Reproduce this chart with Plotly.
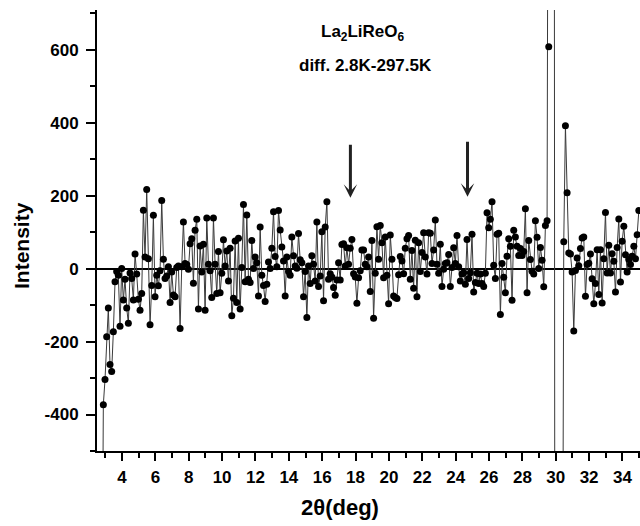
import plotly.graph_objects as go

# 2theta grid of the measurement (deg)
X_START = 2.78
X_STEP = 0.1

# Difference intensity
seg_low = [-1200,
    -373, -304, -187, -108, -263, -282, -173, -36, -8, -18,
    -158, 0, -86, -29, -108, -150, -12, -27, -86, 40,
    -15, -84, -114, -68, 160, 32, 217, 27, -154, -46,
    146, -77, -18, -47, -6, 187, 26, -27, -20, 5,
    -93, -9, -72, -77, 3, 7, -164, 5, 128, 14,
    11, -2, 68, 82, -40, 105, 135, -111, 62, -9,
    67, -114, 139, 12, -6, -79, 139, 12, -68, 47,
    -66, -13, 79, 7, 48, -34, 56, -129]
seg_mid = [
    -81, 76, -93, 83, -111, 3, 176, -36, 147, -29,
    -38, 77, 0, 32, 16, -75, 114, -18, -46, -90,
    -43, 18, 0, 56, 156, 33, 5, 159, 106, 59,
    21, -75, 32, -8, -18, 87, 35, 7, 1, 96,
    24, 16, -77, -8, -134, 7, -41, 35, 12, -34,
    128, -49, -20, 101, -88, 114, 183, -29, -14, -23,
    -52, -73, -31, 16, -31, 66, 68, 7, 57, 12,
    56, 80, -14, -23, -95, -25, -6, 51]
seg_high = [
    51, 12, 5, 32, -63, 77, -136, -13, 115, 26,
    118, 71, -25, 87, -18, -96, 92, 26, -75, -79,
    -82, -17, 33, 21, -14, 56, 82, 91, -29, 50,
    -54, 78, -77, 71, -8, 44, 98, 32, -15, 98,
    97, 14, 51, 133, 12, -13, 67, -49, -2, 14,
    16, 39, -49, 3, 57, 14, 91, 5, -34, -15,
    -11, -43, 80, -27, -11, 94, -64, -38, -13, -41,
    -15, -41, -49, -13, 153, 112, 135, 183, 9, -27,
    94]
seg_prepeak = [
    97, -126, 14, -24, -66, 34, 82, 61, -87, 105,
    87, 61, 36, 55, 36, 47, 164, -66, 77, 25,
    -7, -15, 131, 86, 0, 58, 23, -50, 118, 131,
    608]
seg_peak = [3500, 6000, 3500, -3500, -6000, -7000, -6000, -1500]
seg_post = [
    74, 392, 208, 43, 40, -9, -171, -5, 29, 8,
    55, 84, 87, -76, 11, 15, 40, -28, -96, -41,
    52, -71, 52, -94, 27, 154, -12, 64, -12, 41,
    20, -64, 58, 136, -37, 75, 116, 38, -9, 25,
    11, 34, 61, 27, 93, 159]

intensity = seg_low + seg_mid + seg_high + seg_prepeak + seg_peak + seg_post
two_theta = [round(X_START + X_STEP * i, 2) for i in range(len(intensity))]

# Arrow markers (2theta, tail, tip)
arrow_x = [17.69, 24.71]
arrow_tail = [344, 352]
arrow_tip = [194, 197]

x_ticks = [4, 6, 8, 10, 12, 14, 16, 18, 20, 22, 24, 26, 28, 30, 32, 34]
y_ticks = [-400, -200, 0, 200, 400, 600]

FONT = "Liberation Sans, Arial, sans-serif"

fig = go.Figure()
fig.add_trace(go.Scatter(
    x=two_theta, y=intensity, mode="lines+markers",
    line=dict(color="#3a3a3a", width=1),
    marker=dict(color="black", size=7),
    showlegend=False, hoverinfo="skip"))

for xa, yt, yh in zip(arrow_x, arrow_tail, arrow_tip):
    fig.add_annotation(x=xa, y=yh, ax=xa, ay=yt, xref="x", yref="y",
                       axref="x", ayref="y", showarrow=True, text="",
                       arrowhead=3, arrowsize=0.75, arrowwidth=3,
                       arrowcolor="#222222")

fig.add_annotation(x=0.49, y=0.948, xref="paper", yref="paper",
                   xanchor="center", yanchor="middle",
                   text="<b>La<sub>2</sub>LiReO<sub>6</sub></b>", showarrow=False,
                   font=dict(size=17, color="black", family=FONT))
fig.add_annotation(x=0.494, y=0.875, xref="paper", yref="paper",
                   xanchor="center", yanchor="middle",
                   text="<b>diff. 2.8K-297.5K</b>", showarrow=False,
                   font=dict(size=17, color="black", family=FONT))
fig.add_annotation(x=-0.138, y=0.465, xref="paper", yref="paper",
                   xanchor="center", yanchor="middle",
                   text="<b>Intensity</b>", textangle=-90, showarrow=False,
                   font=dict(size=21, color="black", family=FONT))
fig.add_annotation(x=0.4475, y=-0.129, xref="paper", yref="paper",
                   xanchor="center", yanchor="middle",
                   text="<b>2θ(deg)</b>", showarrow=False,
                   font=dict(size=22, color="black", family=FONT))

fig.update_layout(
    width=640, height=526,
    margin=dict(l=97, r=0, t=10, b=75),
    paper_bgcolor="white", plot_bgcolor="white",
    font=dict(family=FONT, color="black"),
    xaxis=dict(range=[2.5, 35.05], tickmode="array", tickvals=x_ticks,
               ticktext=[f"<b>{t}</b>" for t in x_ticks],
               ticks="outside", ticklen=8, tickwidth=2, tickcolor="black",
               minor=dict(ticks="outside", ticklen=5, tickwidth=2, tickcolor="black",
                          dtick=1, tick0=1),
               showline=True, linecolor="black", linewidth=2,
               showgrid=False, zeroline=False,
               tickfont=dict(size=17, color="black", family=FONT),
               ticklabelstandoff=2),
    yaxis=dict(range=[-500, 709], tickmode="array", tickvals=y_ticks,
               ticktext=[f"<b>{t}</b>" for t in y_ticks],
               ticks="outside", ticklen=9, tickwidth=2, tickcolor="black",
               minor=dict(ticks="outside", ticklen=5, tickwidth=2, tickcolor="black",
                          dtick=100, tick0=0),
               showline=True, linecolor="black", linewidth=2,
               showgrid=False, zeroline=True, zerolinecolor="black", zerolinewidth=2,
               tickfont=dict(size=17, color="black", family=FONT),
               ticklabelstandoff=4),
)

fig.write_html("out.html")
